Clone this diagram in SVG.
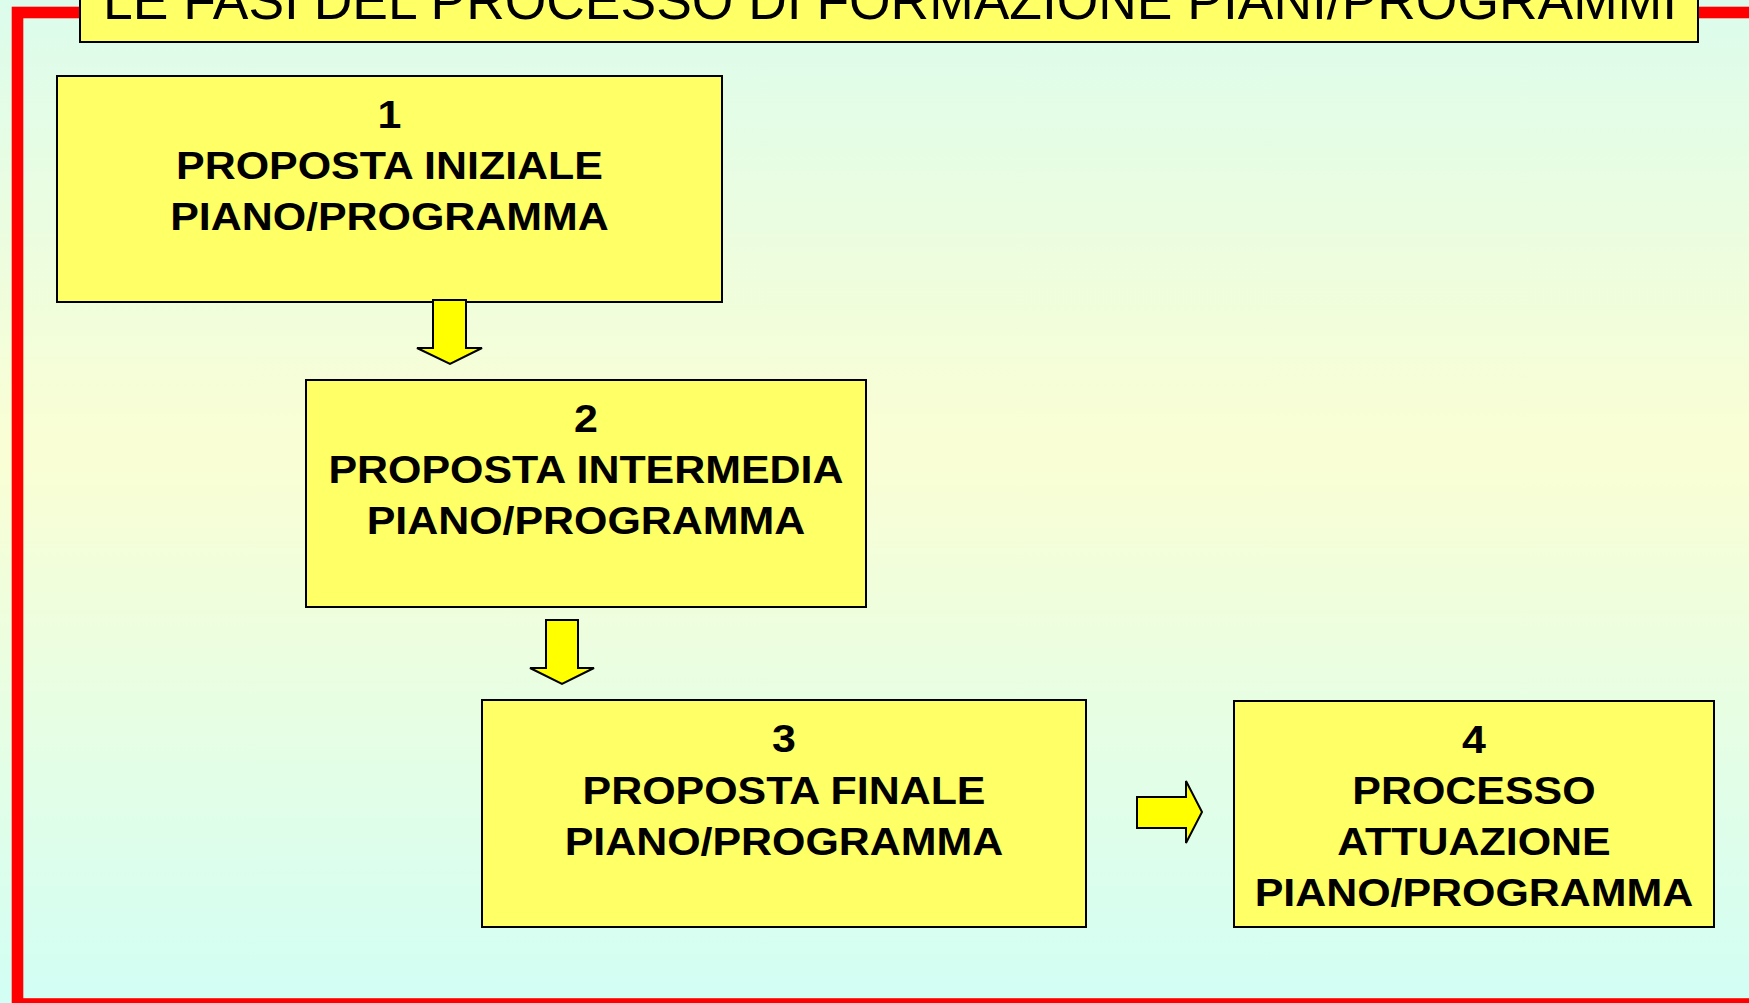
<svg xmlns="http://www.w3.org/2000/svg" width="1749" height="1003" viewBox="0 0 1749 1003">
  <defs>
    <linearGradient id="bg" x1="0" y1="0" x2="0" y2="1">
      <stop offset="0" stop-color="#dcfcec"/>
      <stop offset="0.45" stop-color="#fafed4"/>
      <stop offset="1" stop-color="#d2fef4"/>
    </linearGradient>
    <style>
      .box { fill: #ffff66; stroke: #000; stroke-width: 2; }
      .lbl { font-family: "Liberation Sans", Arial, sans-serif; font-weight: bold; font-size: 38.5px; fill: #000; text-anchor: middle; }
      .title { font-family: "Liberation Sans", Arial, sans-serif; font-size: 53px; fill: #000; }
      .arrow { fill: #ffff00; stroke: #000; stroke-width: 2; stroke-linejoin: miter; }
    </style>
  </defs>

  <rect x="0" y="0" width="1749" height="1003" fill="url(#bg)"/>
  <rect id="frame" x="17.5" y="12.5" width="1770" height="991.5" fill="none" stroke="#ff0000" stroke-width="11.6"/>

  <g id="title">
    <rect x="80" y="-30" width="1618" height="72" class="box"/>
    <text class="title" x="103" y="19" textLength="1574" lengthAdjust="spacingAndGlyphs">LE FASI DEL PROCESSO DI FORMAZIONE PIANI/PROGRAMMI</text>
  </g>

  <g id="node1">
    <rect x="57" y="76" width="665" height="226" class="box"/>
    <g transform="translate(389.5 0) scale(1.115 1)">
      <text class="lbl" x="0" y="128">1</text>
      <text class="lbl" x="0" y="179">PROPOSTA INIZIALE</text>
      <text class="lbl" x="0" y="230">PIANO/PROGRAMMA</text>
    </g>
  </g>

  <g id="node2">
    <rect x="306" y="380" width="560" height="227" class="box"/>
    <g transform="translate(586 0) scale(1.115 1)">
      <text class="lbl" x="0" y="432">2</text>
      <text class="lbl" x="0" y="483">PROPOSTA INTERMEDIA</text>
      <text class="lbl" x="0" y="534">PIANO/PROGRAMMA</text>
    </g>
  </g>

  <g id="node3">
    <rect x="482" y="700" width="604" height="227" class="box"/>
    <g transform="translate(784 0) scale(1.115 1)">
      <text class="lbl" x="0" y="752">3</text>
      <text class="lbl" x="0" y="804">PROPOSTA FINALE</text>
      <text class="lbl" x="0" y="855">PIANO/PROGRAMMA</text>
    </g>
  </g>

  <g id="node4">
    <rect x="1234" y="701" width="480" height="226" class="box"/>
    <g transform="translate(1474 0) scale(1.115 1)">
      <text class="lbl" x="0" y="753">4</text>
      <text class="lbl" x="0" y="804">PROCESSO</text>
      <text class="lbl" x="0" y="855">ATTUAZIONE</text>
      <text class="lbl" x="0" y="906">PIANO/PROGRAMMA</text>
    </g>
  </g>

  <g id="connectors">
    <path class="arrow" d="M433,300 L466,300 L466,348 L482,348 L450,364 L417,348 L433,348 Z"/>
    <path class="arrow" d="M546,620 L578,620 L578,668 L594,668 L562,684 L530,668 L546,668 Z"/>
    <path class="arrow" d="M1137,797 L1186,797 L1186,781 L1202,812 L1186,843 L1186,828 L1137,828 Z"/>
  </g>
</svg>
